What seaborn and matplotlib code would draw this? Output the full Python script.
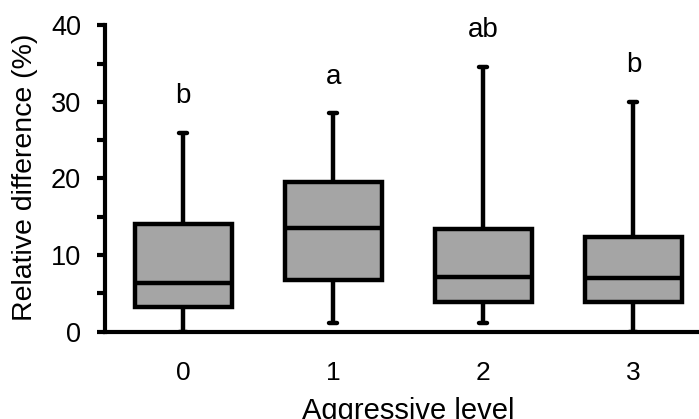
import numpy as np
import pandas as pd
import matplotlib
matplotlib.use("Agg")
import matplotlib.pyplot as plt
from matplotlib.ticker import MultipleLocator
import seaborn as sns

# Box summaries per aggressive level (relative difference, %)
levels = ["0", "1", "2", "3"]
whisker_low = [0.0, 1.1, 1.1, 0.0]
quartile_1 = [3.2, 6.75, 3.85, 3.85]
medians = [6.3, 13.6, 7.2, 7.0]
quartile_3 = [14.0, 19.5, 13.4, 12.4]
whisker_high = [26.0, 28.5, 34.6, 30.0]
group_letters = ["b", "a", "ab", "b"]

# Five values per level reproduce min / Q1 / median / Q3 / max exactly
rows = []
for lv, lo, a, m, b, hi in zip(levels, whisker_low, quartile_1, medians, quartile_3, whisker_high):
    for v in (lo, a, m, b, hi):
        rows.append({"level": lv, "value": v})
df = pd.DataFrame(rows)

sns.set_style("ticks")
plt.rcParams["font.family"] = ["Liberation Sans", "DejaVu Sans"]
plt.rcParams["text.color"] = "black"
plt.rcParams["axes.labelcolor"] = "black"
plt.rcParams["xtick.color"] = "black"
plt.rcParams["ytick.color"] = "black"

fig = plt.figure(figsize=(6.99, 4.19), dpi=100)
ax = fig.add_axes([0.150, 0.2084, 0.85, 0.7312])

box_width = 0.65
sns.boxplot(data=df, x="level", y="value", order=levels, whis=(0, 100),
            width=box_width, color="#a5a5a5", saturation=1, linecolor="black",
            linewidth=3.2, showfliers=False, ax=ax)

# Narrow whisker caps
for line in ax.lines:
    x = np.asarray(line.get_xdata(), dtype=float)
    y = np.asarray(line.get_ydata(), dtype=float)
    if len(x) == 2 and y[0] == y[1] and abs(x[1] - x[0]) < 0.6 * box_width:
        c = x.mean()
        line.set_xdata([c - 0.027, c + 0.027])

# Significance letters above each whisker
for i, (hi, txt) in enumerate(zip(whisker_high, group_letters)):
    ax.text(i, hi + 3.9, txt, ha="center", va="baseline", fontsize=20, color="black")

ax.set_xlim(-0.523, 3.437)
ax.set_ylim(0, 40)
ax.yaxis.set_major_locator(MultipleLocator(10))
ax.yaxis.set_minor_locator(MultipleLocator(5))
ax.tick_params(axis="y", which="both", direction="out", length=6, width=3,
               labelsize=19.5, pad=11, color="black", labelcolor="black")
ax.tick_params(axis="x", length=0, labelsize=19, pad=21, labelcolor="black")

for side in ("top", "right"):
    ax.spines[side].set_visible(False)
for side in ("left", "bottom"):
    ax.spines[side].set_linewidth(3)
    ax.spines[side].set_color("black")

ax.set_xlabel("Aggressive level", fontsize=21)
ax.set_ylabel("Relative difference (%)", fontsize=20.5)
ax.xaxis.set_label_coords(0.51, -0.213)
ax.yaxis.set_label_coords(-0.113, 0.503)

fig.savefig("out.png", dpi=100)
